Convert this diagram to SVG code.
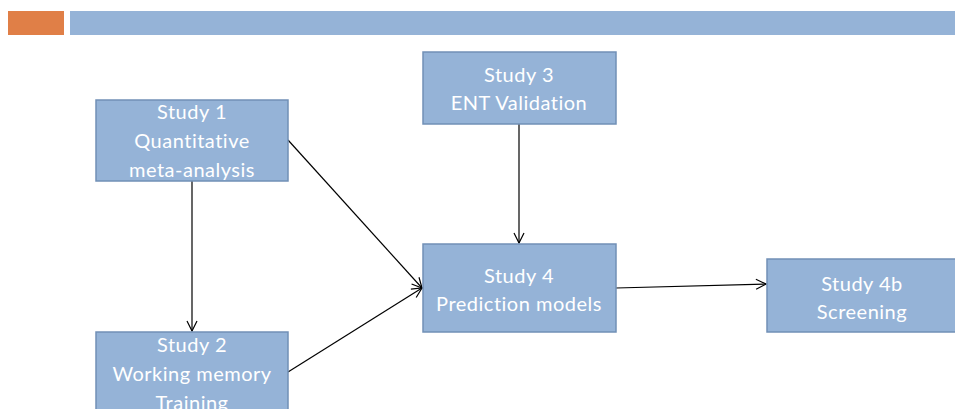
<svg xmlns="http://www.w3.org/2000/svg" width="955" height="409" viewBox="0 0 955 409">
<style>
.box{fill:#95B3D7;stroke:#7190B6;stroke-width:1.5}
.t{font-family:Lato,"Open Sans","Liberation Sans",sans-serif;font-size:20px;letter-spacing:0.5px;fill:#FFFFFF;text-anchor:middle;font-variant-ligatures:none}
.c{stroke:#000;stroke-width:1.2;fill:none;marker-end:url(#ah)}
</style>
<defs>
<marker id="ah" viewBox="0 0 12 12" refX="11" refY="6" markerWidth="12" markerHeight="12" markerUnits="userSpaceOnUse" orient="auto">
<path d="M1,1 L11,6 L1,11" fill="none" stroke="#000" stroke-width="1.2"/>
</marker>
</defs>
<rect x="8" y="11" width="56" height="24" fill="#E07F47"/>
<rect x="70" y="11" width="885" height="24" fill="#95B3D7"/>
<g id="connectors">
<line class="c" x1="192" y1="181" x2="192" y2="331"/>
<line class="c" x1="288" y1="140" x2="422" y2="288"/>
<line class="c" x1="288" y1="372" x2="422" y2="288"/>
<line class="c" x1="519" y1="124" x2="519" y2="243"/>
<line class="c" x1="616" y1="288" x2="766" y2="284"/>
</g>
<g id="study1">
<rect class="box" x="96" y="100" width="192" height="81"/>
<text class="t" x="192" y="119">Study 1</text>
<text class="t" x="192" y="148">Quantitative</text>
<text class="t" x="192" y="177">meta-analysis</text>
</g>
<g id="study2">
<rect class="box" x="96" y="332" width="192" height="90"/>
<text class="t" x="192" y="352">Study 2</text>
<text class="t" x="192" y="381">Working memory</text>
<text class="t" x="192" y="410">Training</text>
</g>
<g id="study3">
<rect class="box" x="423" y="52" width="193" height="72"/>
<text class="t" x="519" y="82">Study 3</text>
<text class="t" x="519" y="110">ENT Validation</text>
</g>
<g id="study4">
<rect class="box" x="423" y="244" width="193" height="88"/>
<text class="t" x="519" y="283">Study 4</text>
<text class="t" x="519" y="311">Prediction models</text>
</g>
<g id="study4b">
<rect class="box" x="767" y="259" width="195" height="73"/>
<text class="t" x="862" y="291">Study 4b</text>
<text class="t" x="862" y="319">Screening</text>
</g>
</svg>
